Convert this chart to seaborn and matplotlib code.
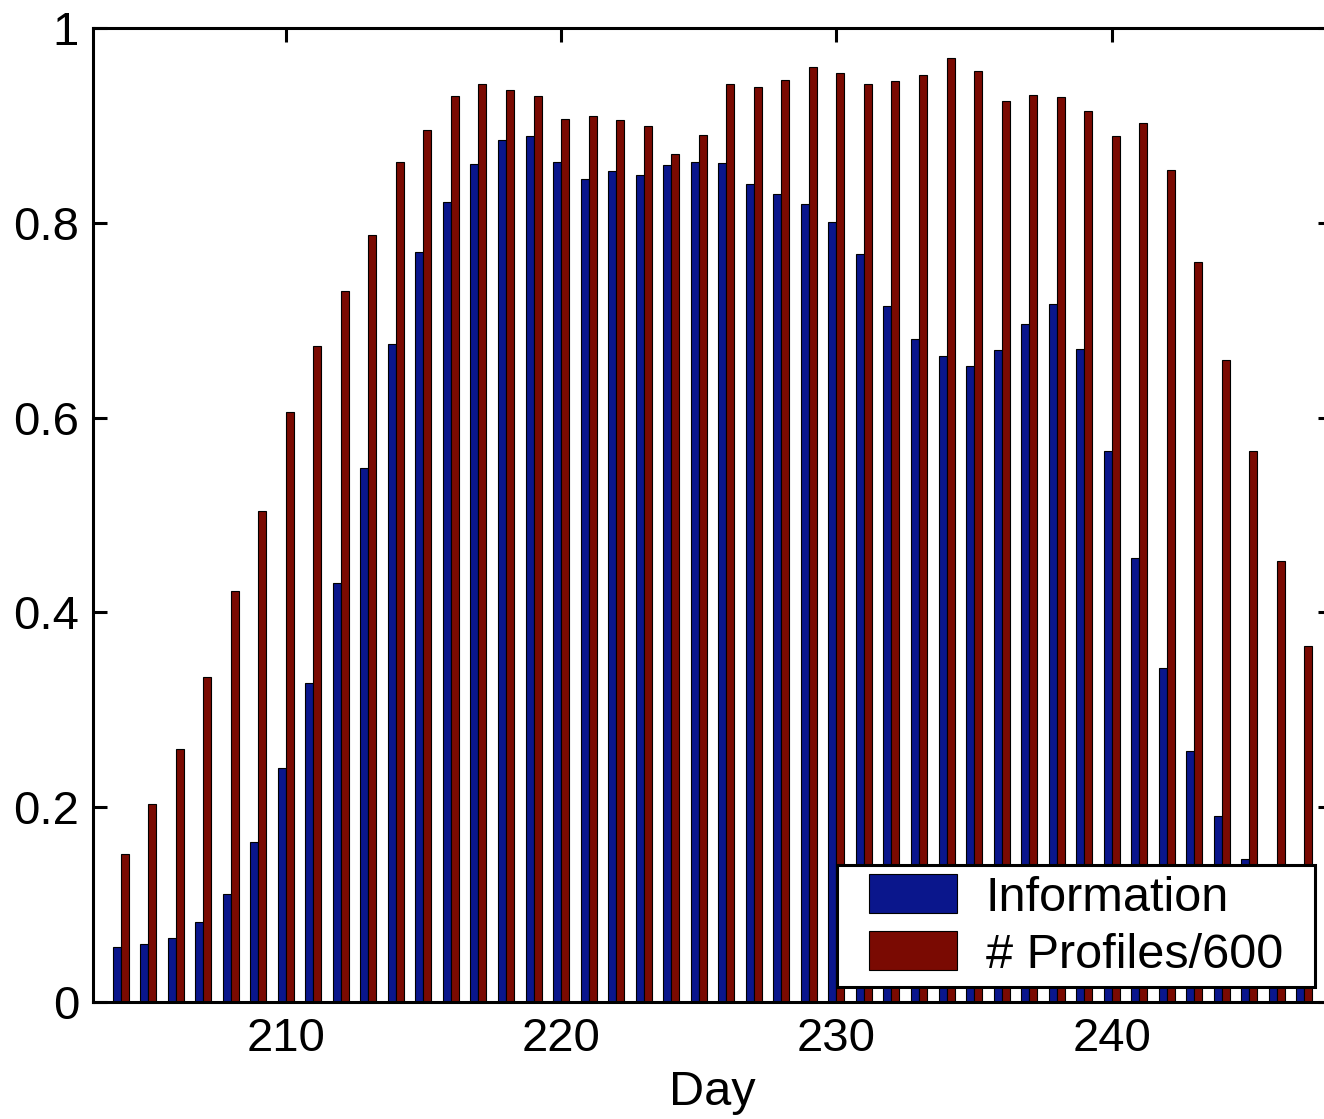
import matplotlib
matplotlib.use("Agg")
import matplotlib.pyplot as plt
import seaborn as sns
import pandas as pd
from matplotlib.patches import Patch, Rectangle

days = list(range(204, 248))
information = [0.056, 0.060, 0.066, 0.082, 0.111, 0.164, 0.240, 0.328, 0.430, 0.548,
               0.676, 0.770, 0.821, 0.860, 0.885, 0.889, 0.862, 0.845, 0.853, 0.849,
               0.859, 0.862, 0.861, 0.840, 0.830, 0.819, 0.801, 0.768, 0.715, 0.681,
               0.663, 0.653, 0.669, 0.696, 0.717, 0.670, 0.566, 0.456, 0.343, 0.258,
               0.191, 0.147, 0.110, 0.080]
profiles = [0.152, 0.203, 0.260, 0.334, 0.422, 0.504, 0.606, 0.673, 0.730, 0.787,
            0.862, 0.895, 0.930, 0.943, 0.936, 0.930, 0.907, 0.910, 0.906, 0.899,
            0.871, 0.890, 0.943, 0.939, 0.947, 0.960, 0.954, 0.943, 0.946, 0.952,
            0.969, 0.956, 0.925, 0.931, 0.929, 0.915, 0.889, 0.902, 0.854, 0.760,
            0.659, 0.566, 0.453, 0.366]
series_names = ["Information", "# Profiles/600"]
colors = ["#0a168c", "#7a0a02"]
xtick_days = [210, 220, 230, 240]
ytick_vals = [0, 0.2, 0.4, 0.6, 0.8, 1]
ytick_labels = ["0", "0.2", "0.4", "0.6", "0.8", "1"]

df = pd.DataFrame({
    "Day": days * 2,
    "value": information + profiles,
    "series": [series_names[0]] * len(days) + [series_names[1]] * len(days),
})

sns.set_style("white")
plt.rcParams["font.family"] = ["Liberation Sans", "DejaVu Sans"]
plt.rcParams["text.color"] = "black"
plt.rcParams["axes.labelcolor"] = "black"

fig = plt.figure(figsize=(13.24, 11.19), dpi=100)
ax = fig.add_axes([93 / 1324, 117 / 1119, (1332 - 93) / 1324, (1002 - 28) / 1119])

sns.barplot(data=df, x="Day", y="value", hue="series", order=days,
            hue_order=series_names, palette=dict(zip(series_names, colors)),
            width=0.58, edgecolor="black", linewidth=0.8, ax=ax, legend=False,
            saturation=1)

ax.set_xlim(-1, len(days))
ax.set_ylim(0, 1)
ax.set_xticks([days.index(d) for d in xtick_days])
ax.set_xticklabels([str(d) for d in xtick_days])
ax.set_yticks(ytick_vals)
ax.set_yticklabels(ytick_labels)
ax.set_xlabel("Day", fontsize=35, labelpad=6, color="black")
ax.set_ylabel("")

for s in ax.spines.values():
    s.set_visible(True)
    s.set_linewidth(2.2)
    s.set_color("black")

ax.tick_params(axis="both", direction="in", length=10, width=2.2, labelsize=34,
               top=True, right=True, bottom=True, left=True, colors="black")
ax.tick_params(axis="x", pad=11)
ax.tick_params(axis="y", pad=10)

# legend frame (MATLAB-style, wider horizontal padding)
frame = Rectangle((0.6005, 0.0154), 0.9863 - 0.6005, 0.1407 - 0.0154,
                  transform=ax.transAxes, facecolor="white", edgecolor="black",
                  linewidth=2.2, zorder=4, clip_on=False)
ax.add_patch(frame)

handles = [Patch(facecolor=c, edgecolor="black", linewidth=0.8) for c in colors]
leg = ax.legend(handles, series_names, loc="center",
                bbox_to_anchor=(0.7934, 0.078), fontsize=35,
                frameon=False, handlelength=1.8, handleheight=0.86,
                handletextpad=0.6, borderpad=0.0, borderaxespad=0.0,
                labelspacing=0.22)
leg.set_zorder(5)

fig.savefig("out.png", dpi=100)
